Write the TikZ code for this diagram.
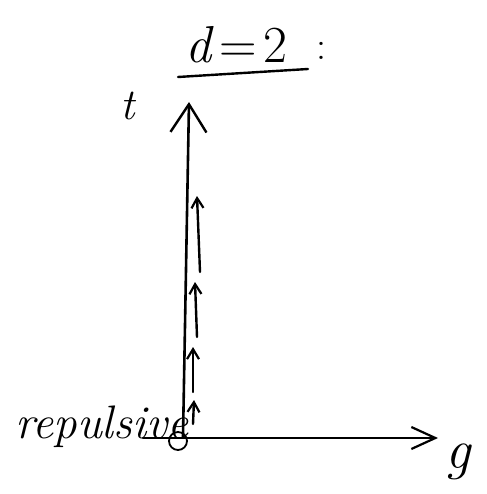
\documentclass[tikz,border=0pt]{standalone}
\usepackage{fontspec}
\usetikzlibrary{arrows.meta}
\begin{document}
\begin{tikzpicture}[x=1pt,y=-1pt,
  axis/.style={line width=2.6pt,line cap=round},
  vhead/.style={-{Straight Barb[length=28pt,width=36pt,line width=2.4pt]}},
  hhead/.style={-{Straight Barb[length=24pt,width=22pt,line width=2.2pt]}},
  flow/.style={line width=2.4pt,line cap=round,-{Straight Barb[length=10pt,width=12pt,line width=2.2pt]}},
  lbl/.style={inner sep=0pt}]
\useasboundingbox (0,0) rectangle (486,494);
% axes
\coordinate (O) at (183,437);
\coordinate (T) at (189,102);
\coordinate (Xs) at (143,438);
\coordinate (X) at (438,438);
\draw[axis,vhead] (O) -- (T);
\draw[axis,hhead] (Xs) -- (X);
% repulsive fixed point
\node[draw,circle,line width=1.8pt,minimum size=18pt,inner sep=0pt] (fp) at (178,441) {};
% flow arrows
\coordinate (a1) at (200,272); \coordinate (b1) at (197,196);
\coordinate (a2) at (197,337); \coordinate (b2) at (195,282);
\coordinate (a3) at (193,392); \coordinate (b3) at (193,347);
\coordinate (a4) at (193,424); \coordinate (b4) at (194,400);
\draw[flow] (a1) -- (b1);
\draw[flow] (a2) -- (b2);
\draw[flow] (a3) -- (b3);
\draw[flow] (a4) -- (b4);
% labels
\node[lbl,font=\fontsize{44}{48}\selectfont\itshape] (t) at (128,106) {t};
\node[lbl,font=\fontsize{47}{50}\selectfont\itshape,anchor=base] (rep) at (102,438) {repulsive};
\node[lbl,font=\fontsize{56}{60}\selectfont\itshape] (g) at (458,462) {g};
\node[lbl,font=\fontsize{52}{56}\selectfont,anchor=base] (d) at (236,63) {\textit{d}\hspace{6pt}=\hspace{6pt}2};
\node[lbl,font=\fontsize{40}{44}\selectfont,anchor=base] (colon) at (321,60) {:};
\coordinate (u1) at (178,77);
\coordinate (u2) at (308,69);
\draw[line width=2.4pt,line cap=round] (u1) -- (u2);
\end{tikzpicture}
\end{document}
